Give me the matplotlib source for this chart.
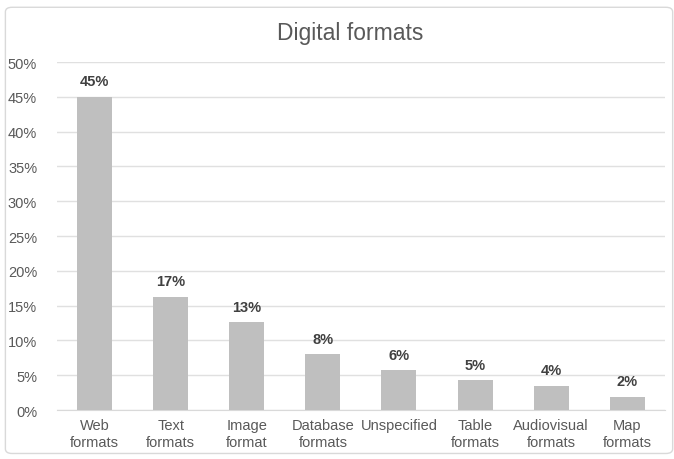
import matplotlib.pyplot as plt
from matplotlib.patches import FancyBboxPatch
import numpy as np

plt.rcParams['font.family'] = ['Liberation Sans', 'DejaVu Sans']

categories = ['Web\nformats', 'Text\nformats', 'Image\nformat', 'Database\nformats',
              'Unspecified', 'Table\nformats', 'Audiovisual\nformats', 'Map\nformats']
values = [45.0, 16.3, 12.6, 8.0, 5.7, 4.3, 3.5, 1.9]
labels = ['45%', '17%', '13%', '8%', '6%', '5%', '4%', '2%']
yticks = [0, 5, 10, 15, 20, 25, 30, 35, 40, 45, 50]

fig = plt.figure(figsize=(6.74, 4.6), dpi=100)
fig.patch.set_facecolor('white')

# light chart frame
frame = FancyBboxPatch((0.008, 0.012), 0.99, 0.97, boxstyle='round,pad=0,rounding_size=0.01',
                       transform=fig.transFigure, facecolor='none', edgecolor='#d9d9d9', lw=1)
fig.patches.append(frame)

ax = fig.add_axes([0.084, 0.1065, 0.903, 0.7565])
x = np.arange(len(categories))
ax.bar(x, values, width=0.46, color='#bfbfbf', zorder=3)

for xi, v, lab in zip(x, values, labels):
    ax.text(xi, v + 1.2, lab, ha='center', va='bottom', fontsize=10.5,
            color='#404040', fontweight='bold')

ax.set_ylim(0, 50)
ax.set_xlim(-0.5, len(categories) - 0.5)
ax.set_yticks(yticks)
ax.set_yticklabels([f'{t}%' for t in yticks])
ax.set_xticks(x)
ax.set_xticklabels(categories)
ax.tick_params(axis='y', length=0, labelsize=10.5, labelcolor='#595959', pad=14)
ax.tick_params(axis='x', length=0, labelsize=10.5, labelcolor='#595959', pad=6)
ax.grid(axis='y', color='#e0e0e0', lw=1, zorder=0)
for s in ['top', 'right', 'left']:
    ax.spines[s].set_visible(False)
ax.spines['bottom'].set_color('#d9d9d9')
ax.set_facecolor('white')

fig.text(0.52, 0.928, 'Digital formats', ha='center', va='center', fontsize=16.5, color='#595959')

fig.savefig('out.png', dpi=100)
